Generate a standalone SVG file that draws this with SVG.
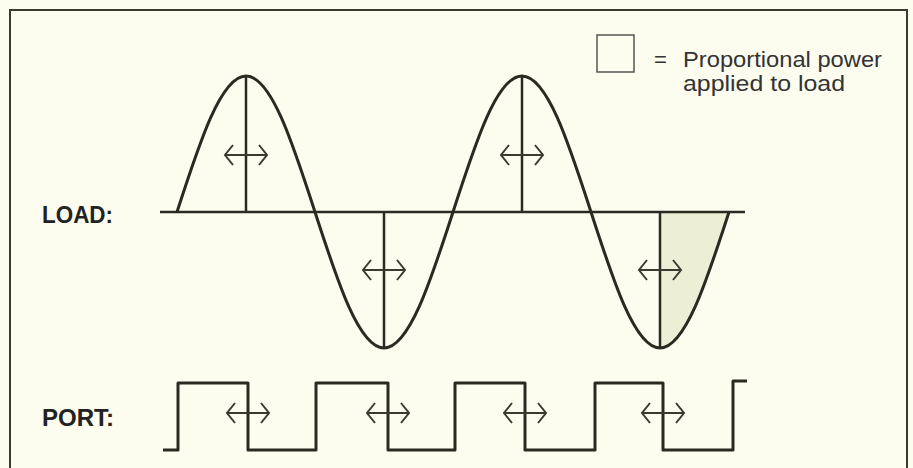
<svg xmlns="http://www.w3.org/2000/svg" width="913" height="468" viewBox="0 0 913 468">
<style>
.bg{fill:#fcfcef}
.frame{fill:none;stroke:#3a3a30;stroke-width:2}
.wave{fill:none;stroke:#2a2a22;stroke-width:3;stroke-linejoin:round}
.ln{fill:none;stroke:#2a2a22;stroke-width:2.5}
.arr{fill:none;stroke:#3a3a30;stroke-width:2}
.lbl{font-family:"Liberation Sans",Arial,sans-serif;font-weight:bold;font-size:23px;fill:#222}
.leg{font-family:"Liberation Sans",Arial,sans-serif;font-size:22px;fill:#333}
.shade{fill:#eceed6}
</style>
<defs>
<g id="dbl">
<path d="M-21,0 H21 M-13,-10 L-21,0 L-13,10 M13,-10 L21,0 L13,10"/>
</g>
</defs>
<rect class="bg" x="0" y="0" width="913" height="468"/>
<rect class="frame" x="10" y="10" width="897" height="470"/>

<g id="legend">
<rect x="597" y="35" width="37" height="37" fill="#fcfcef" stroke="#555" stroke-width="1.5"/>
<text class="leg" x="654" y="67">=</text>
<text class="leg" x="683" y="67" textLength="199" lengthAdjust="spacingAndGlyphs">Proportional power</text>
<text class="leg" x="683" y="91" textLength="162" lengthAdjust="spacingAndGlyphs">applied to load</text>
</g>

<g id="load">
<text class="lbl" x="42" y="223" textLength="71" lengthAdjust="spacingAndGlyphs">LOAD:</text>
<path class="shade" d="M660,212 L660,348 C685,348 706.5,281.7 729,212 Z"/>
<line class="ln" x1="160" y1="212" x2="745" y2="212"/>
<line class="ln" x1="246" y1="76" x2="246" y2="212"/>
<line class="ln" x1="384" y1="212" x2="384" y2="348"/>
<line class="ln" x1="522" y1="76" x2="522" y2="212"/>
<line class="ln" x1="660" y1="212" x2="660" y2="348"/>
<path class="wave" d="M177,212 C199.5,142.3 221,76 246,76 C271,76 292.5,142.3 315,212 C337.5,281.7 359,348 384,348 C409,348 430.5,281.7 453,212 C475.5,142.3 497,76 522,76 C547,76 568.5,142.3 591,212 C613.5,281.7 635,348 660,348 C685,348 706.5,281.7 729,212"/>
</g>

<g id="port">
<text class="lbl" x="42" y="426" textLength="72" lengthAdjust="spacingAndGlyphs">PORT:</text>
<path class="wave" d="M163,450 L178,450 L178,383 L248,383 L248,450 L316,450 L316,383 L388,383 L388,450 L455,450 L455,383 L525,383 L525,450 L595,450 L595,383 L663,383 L663,450 L733,450 L733,381 L747,381"/>
</g>

<g id="connectors" class="arr">
<use href="#dbl" x="246" y="155"/>
<use href="#dbl" x="384" y="270"/>
<use href="#dbl" x="522" y="155"/>
<use href="#dbl" x="660" y="270"/>
<use href="#dbl" x="248" y="413"/>
<use href="#dbl" x="388" y="413"/>
<use href="#dbl" x="525" y="413"/>
<use href="#dbl" x="663" y="413"/>
</g>
</svg>
